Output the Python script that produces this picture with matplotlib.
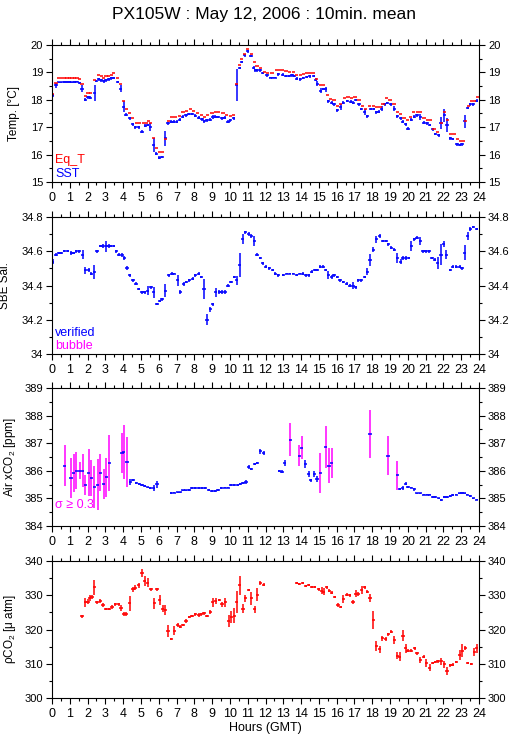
import numpy as np
from matplotlib import pyplot as plt
import matplotlib as mpl
from matplotlib.ticker import MultipleLocator, FormatStrFormatter

mpl.rcParams['font.family'] = ['Liberation Sans', 'DejaVu Sans']
mpl.rcParams['mathtext.default'] = 'regular'

# ---- Temp: SST / Eq_T ----
sst_t = [0.04,0.22,0.37,0.52,0.69,0.84,0.99,1.12,1.27,1.4,1.55,1.69,1.87,2.02,2.15,2.4,2.49,2.62,2.77,2.9,
         3.03,3.18,3.33,3.46,3.69,3.86,4.03,4.16,4.36,4.53,4.68,4.87,5.06,5.24,5.37,5.52,5.71,5.86,6.03,6.18,
         6.37,6.52,6.7,6.84,7.02,7.17,7.34,7.53,7.68,7.87,8.05,8.24,8.43,8.56,8.71,8.9,9.04,9.18,9.33,9.55,
         9.7,9.89,10.02,10.21,10.39,10.54,10.67,10.82,11.01,11.18,11.33,11.42,11.55,11.7,11.85,12.08,12.27,12.4,12.55,12.73,
         12.96,13.15,13.34,13.49,13.62,13.76,13.95,14.12,14.31,14.49,14.7,14.83,14.92,15.11,15.24,15.39,15.54,15.71,15.85,16.04,
         16.23,16.38,16.6,16.79,16.94,17.07,17.25,17.38,17.57,17.72,17.91,18.09,18.22,18.37,18.52,18.71,18.84,19.03,19.25,19.4,
         19.59,19.72,19.87,20.01,20.2,20.37,20.52,20.71,20.89,21.08,21.23,21.4,21.54,21.73,21.86,22.05,22.2,22.38,22.53,22.76,
         22.91,23.04,23.19,23.37,23.5,23.69,23.88]
sst = [18.16,18.53,18.64,18.64,18.65,18.65,18.65,18.64,18.65,18.66,18.62,18.41,18.0,18.09,18.08,18.26,18.69,18.75,18.71,18.68,
       18.71,18.75,18.79,18.8,18.65,18.41,17.74,17.46,17.32,17.1,17.0,16.99,16.84,17.05,17.08,17.0,16.35,16.04,15.89,15.91,
       16.59,17.14,17.2,17.2,17.2,17.28,17.38,17.44,17.48,17.48,17.42,17.35,17.29,17.22,17.25,17.28,17.38,17.38,17.37,17.32,
       17.35,17.2,17.25,17.32,18.53,19.16,19.38,19.62,19.77,19.6,19.17,19.08,19.08,19.08,18.98,18.9,18.81,18.81,18.81,18.93,
       18.92,18.87,18.87,18.9,18.87,18.77,18.75,18.8,18.83,18.86,18.87,18.74,18.59,18.33,18.39,18.39,17.95,17.9,17.84,17.62,
       17.74,17.89,17.96,17.93,17.9,17.99,17.83,17.66,17.56,17.4,17.66,17.66,17.54,17.56,17.68,17.84,17.88,17.84,17.68,17.4,
       17.32,17.2,17.1,16.95,17.28,17.38,17.44,17.38,17.17,17.14,17.08,16.92,16.75,16.71,17.14,17.44,17.08,16.59,16.57,16.37,
       16.35,16.37,17.22,17.7,17.83,17.83,17.97]
sst_e = [0.05,0.09,0.02,0.02,0.02,0.02,0.02,0.02,0.02,0.02,0.04,0.13,0.05,0.05,0.05,0.29,0.05,0.05,0.05,0.05,
         0.05,0.05,0.05,0.05,0.05,0.13,0.2,0.05,0.05,0.05,0.05,0.05,0.05,0.05,0.05,0.15,0.24,0.05,0.05,0.05,
         0.27,0.05,0.05,0.05,0.05,0.05,0.05,0.05,0.05,0.05,0.05,0.05,0.05,0.05,0.05,0.05,0.08,0.05,0.05,0.05,
         0.05,0.05,0.05,0.05,0.59,0.05,0.05,0.05,0.05,0.05,0.05,0.05,0.05,0.05,0.05,0.05,0.02,0.02,0.02,0.05,
         0.05,0.05,0.05,0.05,0.05,0.05,0.05,0.05,0.05,0.05,0.05,0.05,0.08,0.1,0.05,0.09,0.05,0.05,0.05,0.05,
         0.12,0.05,0.05,0.05,0.05,0.05,0.05,0.05,0.1,0.05,0.05,0.05,0.05,0.05,0.1,0.05,0.05,0.05,0.09,0.05,
         0.05,0.05,0.05,0.05,0.05,0.05,0.05,0.1,0.05,0.05,0.05,0.05,0.05,0.05,0.22,0.24,0.24,0.05,0.05,0.05,
         0.05,0.05,0.24,0.05,0.05,0.05,0.05]
eqt_t = [0.04,0.22,0.37,0.52,0.69,0.84,0.99,1.12,1.27,1.4,1.55,1.69,1.87,2.02,2.15,2.4,2.62,2.77,2.9,3.03,
         3.18,3.33,3.46,3.69,3.86,4.03,4.2,4.36,4.53,4.74,4.93,5.15,5.3,5.43,5.52,5.71,5.86,6.03,6.2,6.37,
         6.55,6.74,6.93,7.15,7.36,7.55,7.77,7.96,8.18,8.39,8.56,8.76,8.99,9.18,9.36,9.61,9.79,10.02,10.21,10.39,
         10.54,10.67,10.82,11.01,11.2,11.37,11.52,11.7,11.93,12.13,12.36,12.6,12.79,12.96,13.15,13.37,13.56,13.76,13.95,14.14,
         14.31,14.5,14.68,14.87,15.11,15.28,15.48,15.67,15.85,16.04,16.23,16.45,16.64,16.84,17.03,17.25,17.44,17.63,17.85,18.06,
         18.24,18.43,18.6,18.81,19.0,19.22,19.4,19.59,19.78,19.97,20.16,20.34,20.53,20.72,20.91,21.1,21.28,21.47,21.66,21.88,
         22.07,22.25,22.4,22.59,22.77,22.96,23.11,23.24,23.39,23.57,23.76,23.93]
eqt = [18.2,18.63,18.78,18.8,18.81,18.81,18.8,18.8,18.81,18.8,18.75,18.59,18.14,18.25,18.23,18.71,18.92,18.86,18.81,18.86,
       18.88,18.9,18.96,18.8,18.56,17.97,17.66,17.5,17.34,17.17,17.17,17.14,17.17,17.22,17.14,16.59,16.23,16.08,16.08,16.57,
       17.23,17.39,17.39,17.42,17.54,17.6,17.65,17.59,17.5,17.44,17.38,17.44,17.5,17.54,17.54,17.5,17.46,17.4,17.44,18.57,
       19.28,19.48,19.68,19.87,19.68,19.38,19.24,19.17,19.02,18.96,18.96,19.1,19.1,19.1,19.05,19.02,19.02,18.92,18.9,18.93,
       18.96,18.98,18.96,18.77,18.53,18.53,18.17,18.02,18.0,17.78,17.86,18.07,18.1,18.07,18.1,17.99,17.77,17.68,17.78,17.78,
       17.73,17.73,17.84,18.05,18.0,17.86,17.56,17.49,17.34,17.26,17.38,17.54,17.56,17.54,17.32,17.26,17.25,16.92,16.83,17.17,
       17.56,17.26,16.77,16.74,16.57,16.5,16.5,17.22,17.78,17.95,17.96,18.1]

# ---- SBE salinity ----
sal_t = [0.04,0.22,0.37,0.52,0.69,0.88,1.09,1.22,1.37,1.54,1.72,1.87,2.06,2.21,2.38,2.53,2.72,2.85,3.03,3.18,
         3.31,3.46,3.61,3.75,3.93,4.06,4.21,4.36,4.55,4.72,4.87,5.06,5.21,5.37,5.56,5.71,5.9,6.05,6.18,6.37,
         6.55,6.74,6.87,7.06,7.21,7.4,7.55,7.72,7.9,8.05,8.24,8.39,8.54,8.71,8.9,9.04,9.21,9.4,9.55,9.74,
         9.89,10.06,10.24,10.39,10.54,10.71,10.86,11.05,11.2,11.37,11.52,11.7,11.85,12.02,12.21,12.4,12.55,12.73,13.0,13.19,
         13.37,13.56,13.75,13.93,14.08,14.27,14.42,14.6,14.77,14.92,15.07,15.24,15.39,15.54,15.71,15.85,16.04,16.19,16.38,16.56,
         16.73,16.92,17.07,17.22,17.38,17.57,17.72,17.87,18.06,18.22,18.41,18.6,18.78,18.9,19.06,19.25,19.4,19.59,19.72,19.87,
         20.05,20.2,20.37,20.52,20.71,20.85,21.02,21.21,21.36,21.51,21.68,21.86,22.01,22.16,22.38,22.53,22.72,22.91,23.04,23.19,
         23.37,23.52,23.69,23.88]
sal = [34.54,34.58,34.59,34.59,34.60,34.60,34.59,34.59,34.60,34.60,34.58,34.49,34.49,34.47,34.48,34.60,34.63,34.63,34.63,34.63,
       34.63,34.63,34.60,34.58,34.58,34.56,34.50,34.46,34.43,34.41,34.38,34.36,34.36,34.37,34.39,34.36,34.29,34.31,34.32,34.37,
       34.46,34.47,34.47,34.43,34.36,34.41,34.42,34.43,34.44,34.46,34.47,34.45,34.38,34.20,34.26,34.29,34.36,34.36,34.36,34.36,
       34.40,34.42,34.45,34.43,34.52,34.67,34.71,34.70,34.69,34.66,34.58,34.56,34.53,34.51,34.50,34.49,34.47,34.46,34.46,34.47,
       34.47,34.47,34.46,34.47,34.47,34.46,34.46,34.48,34.49,34.49,34.51,34.51,34.49,34.46,34.45,34.46,34.45,34.43,34.42,34.41,
       34.40,34.40,34.39,34.43,34.43,34.45,34.48,34.55,34.61,34.67,34.69,34.66,34.66,34.64,34.62,34.61,34.56,34.54,34.56,34.56,
       34.56,34.63,34.67,34.68,34.66,34.60,34.60,34.60,34.56,34.55,34.53,34.58,34.64,34.58,34.49,34.51,34.51,34.51,34.50,34.59,
       34.69,34.73,34.74,34.73]
sal_e = [0.017,0.01,0.005,0.005,0.005,0.005,0.012,0.008,0.01,0.008,0.027,0.02,0.01,0.01,0.04,0.008,0.008,0.01,0.032,0.012,
         0.008,0.008,0.008,0.008,0.012,0.01,0.012,0.01,0.01,0.008,0.008,0.008,0.008,0.026,0.01,0.034,0.005,0.008,0.008,0.04,
         0.01,0.008,0.005,0.034,0.012,0.01,0.008,0.008,0.008,0.008,0.008,0.008,0.058,0.032,0.015,0.01,0.027,0.012,0.012,0.012,
         0.008,0.008,0.008,0.026,0.07,0.03,0.01,0.01,0.01,0.03,0.01,0.008,0.008,0.008,0.008,0.008,0.008,0.008,0.005,0.005,
         0.005,0.005,0.005,0.005,0.008,0.008,0.008,0.008,0.008,0.008,0.008,0.008,0.008,0.022,0.012,0.008,0.008,0.008,0.008,0.008,
         0.008,0.02,0.008,0.008,0.008,0.008,0.02,0.034,0.012,0.02,0.01,0.008,0.008,0.008,0.008,0.008,0.027,0.015,0.01,0.01,
         0.008,0.03,0.01,0.008,0.025,0.008,0.008,0.008,0.008,0.008,0.034,0.06,0.017,0.027,0.008,0.008,0.008,0.008,0.01,0.044,
         0.024,0.01,0.005,0.005]

# ---- Air xCO2 ----
bub_t = [0.71,1.07,1.22,1.37,1.55,1.72,1.87,2.06,2.21,2.38,2.57,2.72,2.9,3.05,3.22,3.93,4.03,4.21,
         13.39,13.9,14.04,15.07,15.39,15.57,15.72,17.87,18.88,19.4]
bub = [386.19,385.75,385.93,386.01,386.01,386.01,385.50,385.93,385.75,385.42,385.50,385.93,385.52,385.77,386.28,386.64,386.68,386.31,
       387.13,386.55,386.83,385.93,386.86,386.19,386.27,387.34,386.55,385.83]
bub_e = [0.75,0.73,0.68,0.68,0.3,0.59,0.36,0.85,0.65,0.77,0.93,0.67,0.55,0.71,1.0,0.73,0.99,0.9,
         0.6,0.38,0.42,0.72,0.75,0.64,0.54,0.87,0.7,0.52]
air_t = [4.4,4.55,4.74,4.9,5.06,5.21,5.37,5.52,5.71,5.9,6.7,6.87,7.06,7.21,7.36,7.53,7.72,7.87,8.05,8.24,
         8.43,8.61,8.8,8.99,9.18,9.33,9.52,9.7,9.89,10.06,10.24,10.43,10.58,10.73,10.9,11.05,11.2,11.39,11.55,11.7,
         11.89,12.78,12.93,13.09,14.23,14.42,14.55,14.74,14.89,19.55,19.72,19.87,20.01,20.2,20.37,20.52,20.71,20.9,21.08,21.23,
         21.4,21.55,21.73,21.88,22.05,22.2,22.38,22.53,22.72,22.89,23.04,23.19,23.35,23.5,23.69,23.88]
air = [385.59,385.66,385.55,385.51,385.49,385.45,385.40,385.37,385.37,385.51,385.19,385.21,385.22,385.22,385.29,385.29,385.30,385.37,385.37,385.37,
       385.37,385.37,385.31,385.27,385.27,385.31,385.37,385.39,385.39,385.49,385.49,385.49,385.52,385.55,385.59,386.13,386.06,386.24,386.28,386.70,
       386.64,386.0,385.97,386.28,386.24,385.89,385.66,385.89,385.71,385.35,385.39,385.53,385.42,385.39,385.33,385.18,385.18,385.14,385.14,385.14,
       385.06,385.06,385.0,384.93,385.05,385.05,385.08,385.12,385.14,385.18,385.2,385.18,385.14,385.08,385.0,384.96]
air_e = [0.1,0.03,0.03,0.03,0.03,0.03,0.03,0.03,0.1,0.13,0.03,0.03,0.03,0.03,0.03,0.03,0.03,0.03,0.03,0.03,
         0.03,0.03,0.03,0.03,0.03,0.03,0.03,0.03,0.03,0.03,0.03,0.03,0.03,0.03,0.08,0.08,0.04,0.04,0.04,0.09,
         0.06,0.04,0.06,0.12,0.15,0.1,0.06,0.1,0.1,0.03,0.07,0.05,0.03,0.03,0.05,0.03,0.03,0.03,0.03,0.03,
         0.03,0.03,0.03,0.04,0.03,0.03,0.03,0.03,0.03,0.03,0.03,0.03,0.03,0.03,0.03,0.03]

# ---- pCO2 ----
pco2_t = [1.69,1.87,2.02,2.12,2.25,2.38,2.53,2.72,2.87,3.03,3.22,3.37,3.56,3.75,3.88,4.03,4.18,4.36,4.55,4.68,
          4.87,5.06,5.21,5.37,5.56,5.75,5.9,6.05,6.22,6.37,6.52,6.7,6.87,7.06,7.21,7.36,7.53,7.72,7.87,8.05,
          8.24,8.39,8.54,8.71,8.9,9.04,9.21,9.4,9.55,9.74,9.93,10.08,10.24,10.39,10.54,10.73,10.86,11.05,11.2,11.39,
          11.55,11.7,11.89,13.76,13.89,14.08,14.27,14.42,14.59,14.77,14.98,15.15,15.26,15.43,15.58,15.72,15.9,16.08,16.23,16.38,
          16.56,16.73,16.92,17.07,17.22,17.4,17.57,17.72,17.87,18.06,18.22,18.41,18.56,18.75,18.9,19.06,19.25,19.4,19.55,19.73,
          19.87,20.01,20.2,20.39,20.52,20.71,20.9,21.04,21.23,21.4,21.54,21.69,21.88,22.05,22.2,22.38,22.53,22.72,22.91,23.07,
          23.22,23.37,23.56,23.73,23.88]
pco2 = [323.9,327.9,328.1,329.2,329.5,332.3,327.9,328.3,327.1,325.9,325.9,326.6,327.3,327.3,326.3,324.5,324.5,327.6,331.7,332.2,
        332.9,336.6,334.1,333.7,331.7,327.6,331.7,328.6,326.1,325.7,319.6,317.2,319.6,321.3,320.8,321.3,322.5,323.7,323.9,324.4,
        324.2,324.4,324.7,323.9,325.2,327.9,328.3,328.6,327.3,327.9,322.5,323.7,324.0,327.9,332.9,326.1,329.1,331.5,329.1,325.9,
        330.2,333.6,333.1,333.6,333.2,333.6,332.7,332.9,332.4,332.3,331.7,331.3,331.0,332.3,331.3,330.8,329.5,327.1,326.6,328.9,
        330.2,330.0,327.9,330.5,330.3,331.5,332.3,331.0,329.1,322.8,315.2,314.2,317.4,317.2,318.6,319.4,316.9,312.4,312.1,318.2,
        314.5,313.8,313.8,314.5,313.0,311.1,312.1,310.2,308.9,310.2,310.5,310.7,310.7,309.9,307.9,309.5,309.7,310.5,312.6,313.8,
        314.5,310.2,309.9,313.4,314.5]
pco2_e = [0.4,1.2,0.8,0.8,0.5,2.2,0.5,0.5,0.5,0.3,0.3,0.5,0.3,0.3,0.8,0.5,0.5,2.2,0.8,0.8,
          0.8,1.2,1.5,1.4,0.5,1.6,0.5,1.5,1.0,1.5,1.7,0.4,1.3,0.5,0.4,0.4,0.5,0.3,0.3,0.5,
          0.5,0.5,0.5,0.3,0.6,1.2,1.0,0.3,0.7,1.2,1.7,1.7,2.2,3.2,2.7,1.2,1.1,0.4,1.9,1.1,
          1.9,0.5,0.5,0.4,0.3,0.4,0.3,0.3,0.4,0.3,0.4,1.0,1.0,0.4,0.4,0.3,0.4,0.6,0.4,1.2,
          0.4,0.4,0.6,1.0,0.6,1.1,0.4,0.4,1.2,2.7,1.5,1.1,0.7,0.5,0.4,0.4,1.2,1.1,1.2,1.7,
          1.3,0.4,0.4,0.5,0.5,1.0,0.4,1.2,1.0,0.4,0.4,0.4,1.0,1.0,1.2,0.4,0.4,0.4,1.5,1.9,
          0.6,0.4,0.4,1.2,1.4]

W, H = 515, 739
fig = plt.figure(figsize=(W/100, H/100), dpi=100)

def make_ax(top, bottom):
    return fig.add_axes([52/W, 1-bottom/H, (479-52)/W, (bottom-top)/H])

def style(ax, ylo, yhi, major, minor, label, lx):
    ax.set_xlim(0, 24)
    ax.set_ylim(ylo, yhi)
    ax.xaxis.set_major_locator(MultipleLocator(1))
    ax.xaxis.set_minor_locator(MultipleLocator(0.5))
    ax.yaxis.set_major_locator(MultipleLocator(major))
    ax.yaxis.set_minor_locator(MultipleLocator(minor))
    ax.yaxis.set_major_formatter(FormatStrFormatter('%g'))
    ax.tick_params(which='both', direction='out', top=True, right=True, labelright=True, width=0.8)
    ax.tick_params(which='major', length=4.5)
    ax.tick_params(which='minor', length=2.5)
    ax.tick_params(axis='x', labelsize=9, pad=3)
    ax.tick_params(axis='y', labelsize=8, pad=2)
    for s in ax.spines.values():
        s.set_linewidth(0.8)
    ax.set_ylabel(label, fontsize=8.5)
    ax.yaxis.set_label_coords(lx, 0.5)

dx = 0.09
# 1. temperature
ax1 = make_ax(45, 182)
ax1.errorbar(sst_t, sst, yerr=sst_e, xerr=dx, fmt='none', ecolor='blue', elinewidth=1.1)
ax1.errorbar(eqt_t, eqt, xerr=dx, fmt='none', ecolor='red', elinewidth=1.1)
style(ax1, 15, 20, 1, 0.5, 'Temp. [°C]', -0.075)
ax1.text(0.008, 0.14, 'Eq_T', color='red', fontsize=9, transform=ax1.transAxes)
ax1.text(0.008, 0.04, 'SST', color='blue', fontsize=9, transform=ax1.transAxes)

# 2. salinity
ax2 = make_ax(217, 354)
ax2.errorbar(sal_t, sal, yerr=sal_e, xerr=dx, fmt='none', ecolor='blue', elinewidth=1.1)
style(ax2, 34, 34.8, 0.2, 0.1, 'SBE Sal.', -0.095)
ax2.text(0.008, 0.13, 'verified', color='blue', fontsize=9, transform=ax2.transAxes)
ax2.text(0.008, 0.04, 'bubble', color='magenta', fontsize=9, transform=ax2.transAxes)

# 3. air xCO2
ax3 = make_ax(388, 526)
ax3.errorbar(bub_t, bub, yerr=bub_e, fmt='none', ecolor='magenta', elinewidth=1.1)
ax3.errorbar(bub_t, bub, xerr=dx, fmt='none', ecolor='blue', elinewidth=1.1)
ax3.errorbar(air_t, air, yerr=air_e, xerr=dx, fmt='none', ecolor='blue', elinewidth=1.1)
style(ax3, 384, 389, 1, 0.5, 'Air xCO$_2$ [ppm]', -0.08)
ax3.text(0.008, 0.13, 'σ ≥ 0.3', color='magenta', fontsize=9, transform=ax3.transAxes)

# 4. pCO2
ax4 = make_ax(561, 698)
ax4.errorbar(pco2_t, pco2, yerr=pco2_e, xerr=dx, fmt='none', ecolor='red', elinewidth=1.1)
style(ax4, 300, 340, 10, 5, 'ρCO$_2$ [μ atm]', -0.08)

fig.text(0.512, 1-14/H, 'PX105W : May 12, 2006 : 10min. mean', ha='center', va='center', fontsize=12.5)
fig.text(0.515, 1-728/H, 'Hours (GMT)', ha='center', va='center', fontsize=9)

plt.savefig('out.png', dpi=100)
